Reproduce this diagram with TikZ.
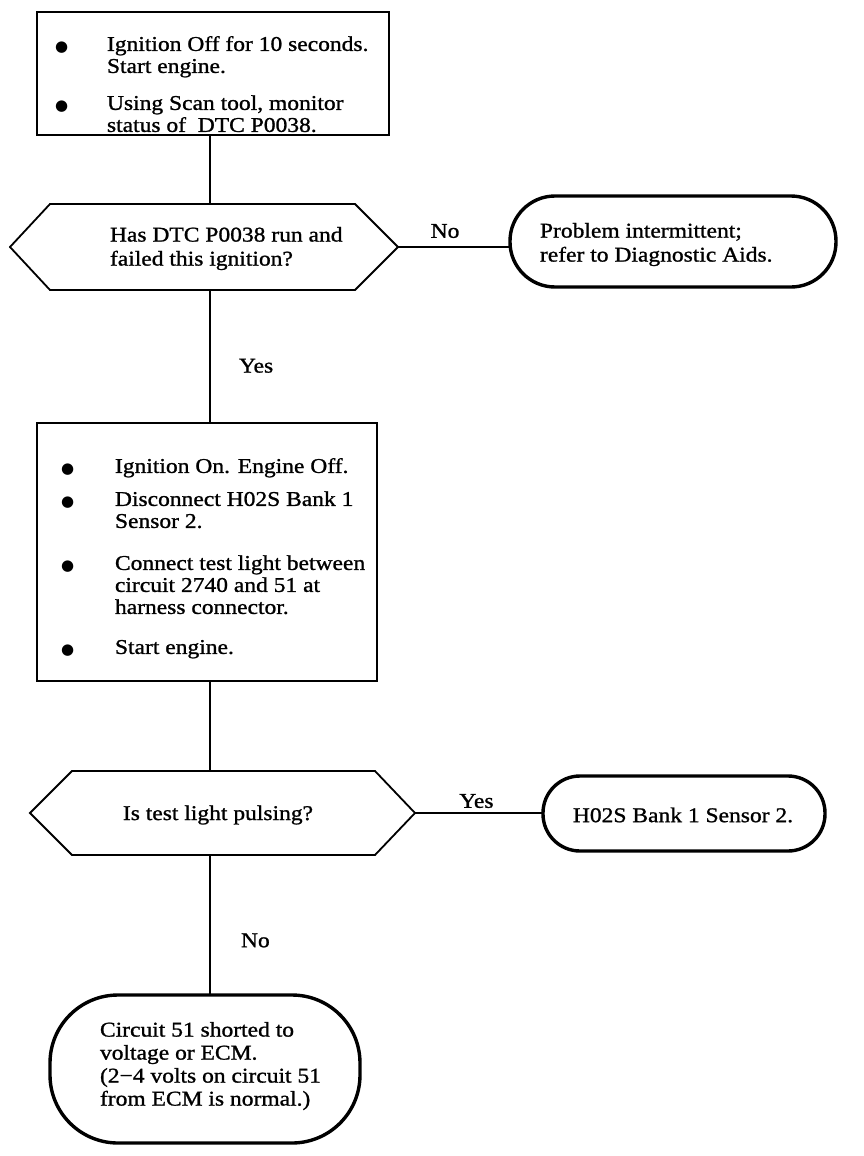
\documentclass[tikz,border=0pt]{standalone}
\usepackage{fontspec}
\setmainfont{Liberation Serif}[FakeStretch=1.12, FakeBold=1.1]
\newfontfamily\djv{DejaVu Sans}
\usetikzlibrary{calc}
\newcommand\blt{\raisebox{-0.5pt}{\djv\fontsize{15}{14}\selectfont ●}}
\begin{document}
\begin{tikzpicture}[x=1pt,y=-1pt,
  every node/.style={inner sep=0pt, outer sep=0pt},
  txt/.style={font=\fontsize{21}{22}\selectfont, align=left, anchor=north west},
  lbl/.style={font=\fontsize{21}{22}\selectfont},
  stepbox/.style={draw, line width=1.8pt, anchor=north west},
  term/.style={draw, line width=3.4pt, anchor=north west},
  link/.style={line width=1.8pt}]
\useasboundingbox (0,0) rectangle (864,1156);
\coordinate (spine) at (210,0);

% step 1
\node[stepbox, minimum width=352, minimum height=123] (b1) at (37,12) {};
\node[txt] (b1t) at (55,35.5) {\begin{tabular}{@{}p{52pt}@{}l@{}}\blt & Ignition Off for 10 seconds.\\ & Start engine.\\[15pt]\blt & Using Scan tool, monitor\\ & status of\ \ DTC P0038.\end{tabular}};

% decision 1
\node[minimum width=388, minimum height=86] (d1) at (204,247) {};
\draw[link] (d1.west) -- ([xshift=40pt]d1.north west) -- ([xshift=-43pt]d1.north east) -- (d1.east) -- ([xshift=-43pt]d1.south east) -- ([xshift=40pt]d1.south west) -- cycle;
\node[txt, font=\fontsize{21}{24}\selectfont] (d1t) at (110,227) {Has DTC P0038 run and\\failed this ignition?};

% terminal 1
\node[term, rounded corners=45, minimum width=326, minimum height=91] (e1) at (510,196) {};
\node[txt, font=\fontsize{21}{24}\selectfont] (e1t) at (540,223) {Problem intermittent;\\refer to Diagnostic Aids.};

% step 2
\node[stepbox, minimum width=340, minimum height=258] (b2) at (37,423) {};
\node[txt] (b2t) at (61,457.5) {\begin{tabular}{@{}p{54pt}@{}l@{}}\blt & Ignition On. Engine Off.\\[11pt]\blt & Disconnect H02S Bank 1\\ & Sensor 2.\\[20pt]\blt & Connect test light between\\ & circuit 2740 and 51 at\\ & harness connector.\\[18pt]\blt & Start engine.\end{tabular}};

% decision 2
\node[minimum width=385, minimum height=84] (d2) at (222.5,813) {};
\draw[link] (d2.west) -- ([xshift=42pt]d2.north west) -- ([xshift=-40pt]d2.north east) -- (d2.east) -- ([xshift=-40pt]d2.south east) -- ([xshift=42pt]d2.south west) -- cycle;
\node[lbl] (d2t) at (218,815) {Is test light pulsing?};

% terminal 2
\node[term, rounded corners=37, minimum width=282, minimum height=75] (e2) at (543,776) {};
\node[lbl] (e2t) at (683,815) {H02S Bank 1 Sensor 2.};

% terminal 3
\node[term, rounded corners=68, minimum width=310, minimum height=148] (e3) at (50,995) {};
\node[txt, font=\fontsize{21}{23}\selectfont] (e3t) at (100,1022) {Circuit 51 shorted to\\voltage or ECM.\\(2−4 volts on circuit 51\\from ECM is normal.)};

% connectors
\draw[link] (b1.south -| spine) -- (d1.north -| spine);
\draw[link] (d1.east) -- node[lbl, pos=0.42, above=9pt] {No} (d1.east -| e1.west);
\draw[link] (d1.south -| spine) -- node[lbl, pos=0.57, right=29pt] {Yes} (b2.north -| spine);
\draw[link] (b2.south -| spine) -- (d2.north -| spine);
\draw[link] (d2.east) -- node[lbl, pos=0.48, above=5pt] {Yes} (d2.east -| e2.west);
\draw[link] (d2.south -| spine) -- node[lbl, pos=0.61, right=31pt] {No} (e3.north -| spine);
\end{tikzpicture}
\end{document}
